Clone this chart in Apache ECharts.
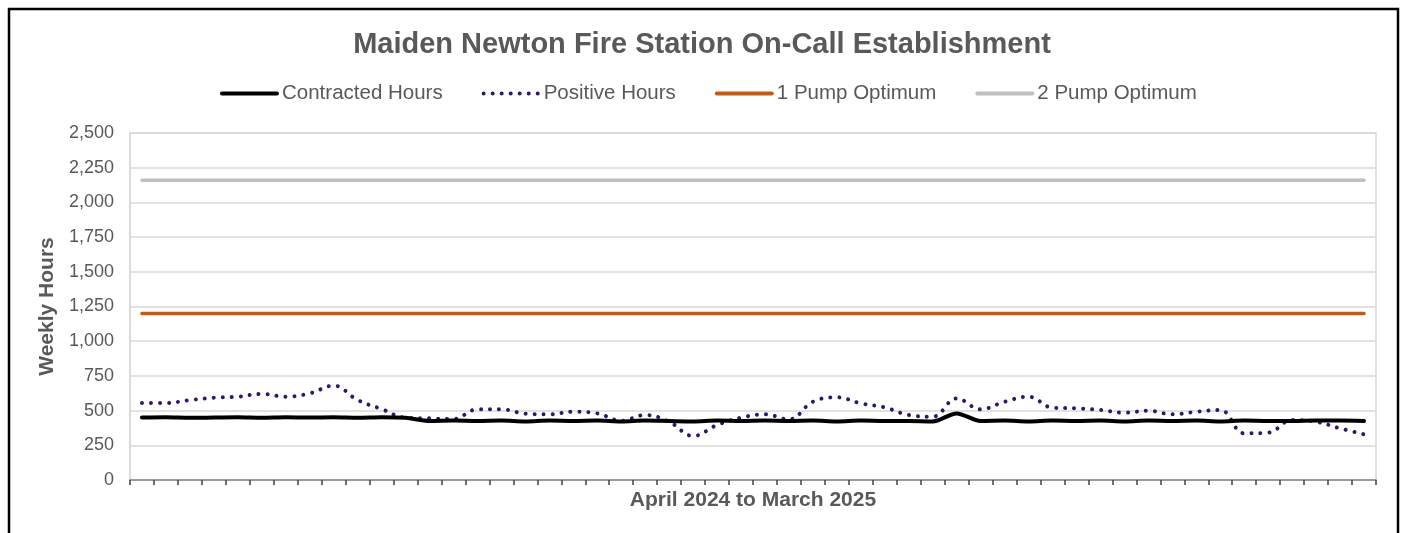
<!DOCTYPE html>
<html>
<head>
<meta charset="utf-8">
<script src="https://cdn.jsdelivr.net/npm/echarts@6/dist/echarts.min.js"></script>
<style>
html,body{margin:0;padding:0;background:#fff;}
#chart{width:1404px;height:533px;}
</style>
</head>
<body>
<div id="chart"></div>
<script>
const weeks = ['01/04/24','08/04/24','15/04/24','22/04/24','29/04/24','06/05/24','13/05/24','20/05/24','27/05/24',
  '03/06/24','10/06/24','17/06/24','24/06/24','01/07/24','08/07/24','15/07/24','22/07/24','29/07/24',
  '05/08/24','12/08/24','19/08/24','26/08/24','02/09/24','09/09/24','16/09/24','23/09/24','30/09/24',
  '07/10/24','14/10/24','21/10/24','28/10/24','04/11/24','11/11/24','18/11/24','25/11/24',
  '02/12/24','09/12/24','16/12/24','23/12/24','30/12/24','06/01/25','13/01/25','20/01/25','27/01/25',
  '03/02/25','10/02/25','17/02/25','24/02/25','03/03/25','10/03/25','17/03/25','24/03/25'];

const contractedHours = [450,452,448,450,452,448,452,450,452,448,452,448,
  425,428,425,428,422,428,425,428,422,428,425,422,428,425,428,425,428,422,428,425,425,422,
  480,425,428,422,428,425,428,422,428,425,428,422,428,425,425,428,428,425];

const positiveHours = [555,555,576,593,600,620,600,624,680,576,511,449,
  444,440,509,509,478,473,492,480,427,468,420,317,396,449,473,437,564,596,
  552,523,468,456,588,509,564,600,521,516,504,485,499,473,492,504,
  336,341,432,420,372,329];

const onePumpOptimum = [1200,1200,1200,1200,1200,1200,1200,1200,1200,1200,1200,1200,1200,
  1200,1200,1200,1200,1200,1200,1200,1200,1200,1200,1200,1200,1200,
  1200,1200,1200,1200,1200,1200,1200,1200,1200,1200,1200,1200,1200,
  1200,1200,1200,1200,1200,1200,1200,1200,1200,1200,1200,1200,1200];

const twoPumpOptimum = [2160,2160,2160,2160,2160,2160,2160,2160,2160,2160,2160,2160,2160,
  2160,2160,2160,2160,2160,2160,2160,2160,2160,2160,2160,2160,2160,
  2160,2160,2160,2160,2160,2160,2160,2160,2160,2160,2160,2160,2160,
  2160,2160,2160,2160,2160,2160,2160,2160,2160,2160,2160,2160,2160];

const yTicks = [0,250,500,750,1000,1250,1500,1750,2000,2250,2500];

const FONT = '"Liberation Sans", Arial, sans-serif';
const TXT = '#595959';

const chart = echarts.init(document.getElementById('chart'), null, {renderer:'canvas'});
chart.setOption({
  animation:false,
  backgroundColor:'#fff',
  textStyle:{fontFamily:FONT},
  title:{
    text:'Maiden Newton Fire Station On-Call Establishment',
    left:'center', top:30, padding:0,
    textStyle:{fontFamily:FONT, fontSize:29, fontWeight:'bold', color:TXT}
  },
  legend:{
    top:83, left:220, padding:0,
    itemWidth:55, itemHeight:2, itemGap:39,
    lineStyle:{width:4},
    textStyle:{fontFamily:FONT, fontSize:20.5, color:TXT},
    data:['Contracted Hours','Positive Hours','1 Pump Optimum','2 Pump Optimum']
  },
  grid:{left:130, right:28, top:133, bottom:53, show:true, borderColor:'#d9d9d9', borderWidth:1.5},
  xAxis:{
    type:'category', data:weeks, boundaryGap:true,
    name:'April 2024 to March 2025', nameLocation:'middle', nameGap:9.5,
    nameTextStyle:{fontFamily:FONT, fontSize:21, fontWeight:'bold', color:TXT},
    axisLine:{lineStyle:{color:'#868686', width:1.5}},
    axisTick:{show:true, length:5, interval:0, lineStyle:{color:'#404040', width:1.5}},
    axisLabel:{show:false},
    splitLine:{show:false}
  },
  yAxis:{
    type:'value', min:yTicks[0], max:yTicks[yTicks.length-1], interval:yTicks[1]-yTicks[0],
    name:'Weekly Hours', nameLocation:'middle', nameGap:64,
    nameTextStyle:{fontFamily:FONT, fontSize:21, fontWeight:'bold', color:TXT},
    axisLine:{show:true, lineStyle:{color:'#d9d9d9', width:1.5}},
    axisTick:{show:false},
    axisLabel:{fontFamily:FONT, fontSize:18, color:TXT, margin:16,
      formatter:v=>v.toLocaleString('en-GB')},
    splitLine:{lineStyle:{color:'#d9d9d9', width:1.5}}
  },
  series:[
    {name:'Contracted Hours', type:'line', data:contractedHours, showSymbol:false, symbol:'none', smooth:0.3,
      lineStyle:{color:'#000000', width:4, cap:'round', join:'round'}, itemStyle:{color:'#000000'}, z:4},
    {name:'Positive Hours', type:'line', data:positiveHours, showSymbol:false, symbol:'none', smooth:0.4,
      lineStyle:{color:'#1f1f6b', width:4, type:[0.01,9], cap:'round'}, itemStyle:{color:'#1f1f6b'}, z:3},
    {name:'1 Pump Optimum', type:'line', data:onePumpOptimum, showSymbol:false, symbol:'none',
      lineStyle:{color:'#c55a11', width:3.5, cap:'round'}, itemStyle:{color:'#c55a11'}, z:2},
    {name:'2 Pump Optimum', type:'line', data:twoPumpOptimum, showSymbol:false, symbol:'none',
      lineStyle:{color:'#bfbfbf', width:3.5, cap:'round'}, itemStyle:{color:'#bfbfbf'}, z:2}
  ],
  graphic:[{
    type:'rect', silent:true, z:100,
    shape:{x:9, y:9, width:1389, height:600},
    style:{fill:'none', stroke:'#000', lineWidth:2.5}
  }]
});
</script>
</body>
</html>
